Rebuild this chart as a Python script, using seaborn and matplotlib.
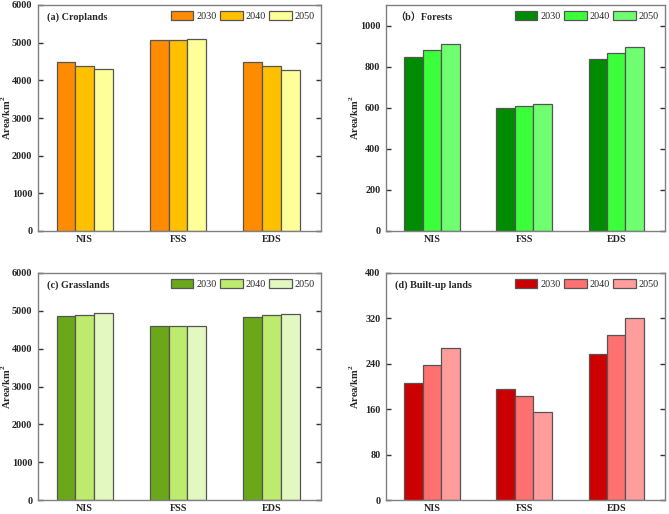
import numpy as np
import pandas as pd
import matplotlib
matplotlib.use('Agg')
import matplotlib.pyplot as plt
import seaborn as sns

sns.set_style('white')
plt.rcParams['font.family'] = ['Liberation Serif', 'DejaVu Serif']
plt.rcParams['mathtext.fontset'] = 'custom'
plt.rcParams['mathtext.bf'] = 'Liberation Serif:bold'
plt.rcParams['mathtext.rm'] = 'Liberation Serif'

regions = ['NIS', 'FSS', 'EDS']
years = ['2030', '2040', '2050']

croplands = {'2030': [4490, 5060, 4480], '2040': [4380, 5070, 4370], '2050': [4290, 5095, 4280]}
forests = {'2030': [849, 600, 836], '2040': [880, 607, 867], '2050': [911, 617, 898]}
grasslands = {'2030': [4870, 4600, 4850], '2040': [4900, 4595, 4890], '2050': [4935, 4595, 4920]}
builtup = {'2030': [206, 195, 258], '2040': [238, 183, 290], '2050': [268, 155, 320]}

panels = [
    ('(a) Croplands', croplands, ['#FF8C00', '#FFC000', '#FFFF99'], 6000, [0, 1000, 2000, 3000, 4000, 5000, 6000]),
    ('（b）Forests', forests, ['#008C00', '#3CFF3C', '#70FF70'], 1100, [0, 200, 400, 600, 800, 1000]),
    ('(c) Grasslands', grasslands, ['#6AA81A', '#BDEB6D', '#E2F8C0'], 6000, [0, 1000, 2000, 3000, 4000, 5000, 6000]),
    ('(d) Built-up lands', builtup, ['#CC0000', '#FF7070', '#FF9C9C'], 400, [0, 80, 160, 240, 320, 400]),
]

fig = plt.figure(figsize=(6.69, 5.14), dpi=100)
boxes = [
    [38 / 669, 1 - 231 / 514, 283 / 669, 226 / 514],
    [386 / 669, 1 - 231 / 514, 279 / 669, 226 / 514],
    [38 / 669, 1 - 500 / 514, 283 / 669, 227 / 514],
    [386 / 669, 1 - 500 / 514, 279 / 669, 227 / 514],
]
fs = 7.3

for (title, data, colors, ymax, yticks), box in zip(panels, boxes):
    ax = fig.add_axes(box)
    rows = []
    for y in years:
        for r, v in zip(regions, data[y]):
            rows.append({'region': r, 'year': y, 'area': v})
    df = pd.DataFrame(rows)
    sns.barplot(data=df, x='region', y='area', hue='year', palette=colors, width=0.6,
                saturation=1, edgecolor='#555555', linewidth=0.9, ax=ax, gap=0)
    ax.set_ylim(0, ymax)
    ax.set_xlim(-0.5, 2.53)
    ax.set_yticks(yticks)
    ax.tick_params(axis='y', direction='in', length=3.5, width=1.0, right=True, left=True,
                   labelsize=fs, pad=4, color='#333333')
    ax.tick_params(axis='x', length=0, labelsize=fs, pad=3)
    for lab in ax.get_xticklabels() + ax.get_yticklabels():
        lab.set_fontweight('bold')
    ax.set_xlabel('')
    ax.set_ylabel('Area/km$^\\mathbf{2}$', fontsize=7.5, fontweight='bold')
    ax.yaxis.set_label_coords(-25 / (box[2] * 669), 0.5)
    for s in ax.spines.values():
        s.set_color('#808080')
        s.set_linewidth(1.0)
    ax.text(9 / (box[2] * 669), 1 - 12 / (box[3] * 514), title, transform=ax.transAxes,
            fontsize=fs, fontweight='bold', va='center', ha='left',
            family=['Liberation Serif', 'Noto Sans CJK SC'])
    leg = ax.legend(loc='upper right', ncol=3, frameon=False, fontsize=fs, handlelength=2.2,
                    handleheight=1.0, columnspacing=0.35, handletextpad=0.3, borderaxespad=0.4,
                    borderpad=0.2, bbox_to_anchor=(1.0, 1.0))

fig.savefig('out.png', dpi=100)
